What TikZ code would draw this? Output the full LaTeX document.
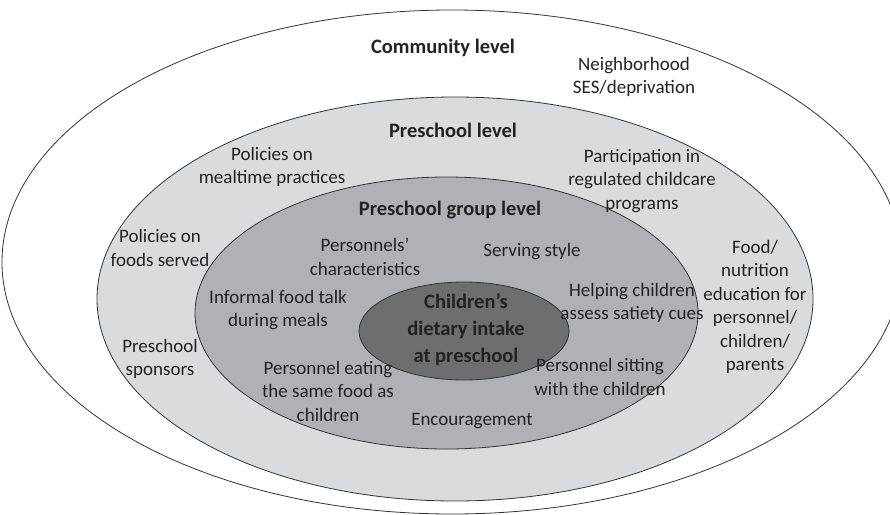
\documentclass[tikz,border=0pt]{standalone}
\usepackage{fontspec}
\setmainfont{Carlito}
\definecolor{txt}{HTML}{222222}
\definecolor{edge}{HTML}{333333}
\definecolor{lvlA}{HTML}{DADBDD}
\definecolor{lvlB}{HTML}{B0B1B4}
\definecolor{lvlC}{HTML}{6E6E70}
\tikzset{
  ring/.style={draw=edge, line width=0.8pt},
  lbl/.style={align=center, inner sep=0pt, text=txt, font=\fontsize{19}{23.5}\selectfont},
  head/.style={align=center, inner sep=0pt, text=txt, font=\bfseries\fontsize{20.5}{25}\selectfont},
  core/.style={align=center, inner sep=0pt, text=txt, font=\bfseries\fontsize{20.5}{27}\selectfont}
}
\begin{document}
\begin{tikzpicture}[x=1pt,y=-1pt]
\useasboundingbox (0,0) rectangle (890,514);
\fill[white] (0,0) rectangle (890,514);
\begin{scope}
\clip (0,0) rectangle (890,514);
\draw[ring, fill=white] (452,262) ellipse [x radius=450, y radius=252];
\draw[ring, fill=lvlA] (455,299) ellipse [x radius=358, y radius=202];
\draw[ring, fill=lvlB] (446.5,313) ellipse [x radius=251.5, y radius=136];
\draw[ring, fill=lvlC] (464,331) ellipse [x radius=105, y radius=49];
\end{scope}
\node[head] (community) at (443,48) {Community level};
\node[lbl] (neigh) at (634,77) {Neighborhood\\SES/deprivation};
\node[head] (preschool) at (453,130) {Preschool level};
\node[lbl] (mealtime) at (272,167) {Policies on\\mealtime practices};
\node[lbl] (regulated) at (642,181) {Participation in\\regulated childcare\\programs};
\node[head] (group) at (450,210) {Preschool group level};
\node[lbl] (foods) at (160,248) {Policies on\\foods served};
\node[lbl] (sponsors) at (160,359) {Preschool\\sponsors};
\node[lbl] (education) at (755,307) {Food/\\nutrition\\education for\\personnel/\\children/\\parents};
\node[lbl] (chars) at (365,257) {Personnels’\\characteristics};
\node[lbl] (serving) at (532,252) {Serving style};
\node[lbl] (informal) at (278,310) {Informal food talk\\during meals};
\node[lbl] (satiety) at (632,303) {Helping children\\assess satiety cues};
\node[lbl] (eating) at (328,391) {Personnel eating\\the same food as\\children};
\node[lbl] (sitting) at (600,377) {Personnel sitting\\with the children};
\node[lbl] (encourage) at (472,421) {Encouragement};
\node[core] (intake) at (466,330) {Children’s\\dietary intake\\at preschool};
\end{tikzpicture}
\end{document}
